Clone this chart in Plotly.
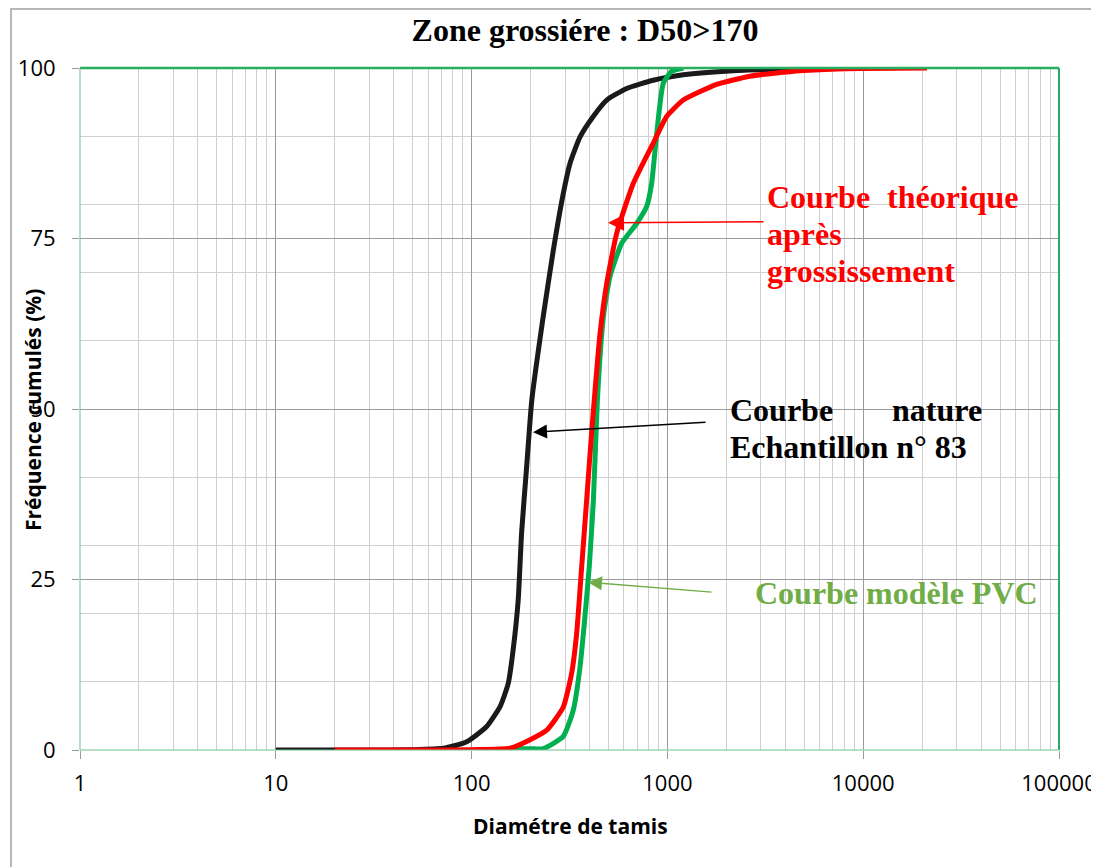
import math
import plotly.graph_objects as go

# Courbe nature Echantillon n° 83 (black)
nat_x = [10, 30, 50, 71.7, 94.4, 119, 140, 154, 163, 173, 180, 191, 203, 232, 261.5, 294, 318, 358, 418, 490, 620, 847, 1206, 2172, 5000]
nat_y = [0, 0, 0.05, 0.25, 1.2, 3.4, 6.4, 9.8, 14.7, 22, 31.8, 41.5, 51.3, 63.5, 73.3, 81.6, 86.0, 89.9, 92.9, 95.3, 97.0, 98.2, 99.0, 99.6, 99.95]

# Courbe théorique après grossissement (red)
theo_x = [20, 50, 100, 157, 199, 242, 294, 324, 344, 365, 387, 410, 453, 490, 551, 670, 847, 991, 1206, 1786, 2642, 4750, 8000, 21200]
theo_y = [0, 0, 0.05, 0.25, 1.5, 2.9, 6.3, 11.2, 17.1, 26.9, 36.7, 46.4, 61.1, 68.4, 75.8, 83.1, 89.0, 92.9, 95.3, 97.6, 98.8, 99.6, 99.9, 100]

# Courbe modèle PVC (green)
pvc_x = [157, 200, 232, 294, 331, 358, 379, 399, 419, 439, 471, 509, 584, 697, 784, 831, 882, 953, 1051, 1206]
pvc_y = [0.2, 0.2, 0.2, 2.0, 5.9, 12.2, 19.5, 26.9, 36.7, 51.3, 63.5, 69.4, 74.3, 77.2, 79.7, 83.1, 90.4, 97.8, 99.5, 100]

x_tickvals = [1, 10, 100, 1000, 10000, 100000]
x_ticktext = ["1", "10", "100", "1000", "10000", "100000"]
y_tickvals = [0, 25, 50, 75, 100]

fig = go.Figure()
fig.add_trace(go.Scatter(x=nat_x, y=nat_y, mode="lines", line=dict(color="#1a1a1a", width=5, shape="spline", smoothing=0.5), showlegend=False))
fig.add_trace(go.Scatter(x=pvc_x, y=pvc_y, mode="lines", line=dict(color="#00B050", width=5, shape="spline", smoothing=0.5), showlegend=False))
fig.add_trace(go.Scatter(x=theo_x, y=theo_y, mode="lines", line=dict(color="#FF0000", width=5, shape="spline", smoothing=0.5), showlegend=False))

serif = "Liberation Serif, Times New Roman, serif"
sans = "Open Sans, sans-serif"

OFF = 8  # page body margin
FW, FH = 1099 - OFF, 867 - OFF
L, R, T, B = 80, 1059, 68, 750  # plot area in page pixels
W, H = R - L, B - T

def px(xp):
    return (xp - L) / W

def py(yp):
    return (B - yp) / H

ann = []
def txt(x, y, s, color, anchor="left", size=32, family=serif, angle=0):
    ann.append(dict(x=x, y=y, xref="paper", yref="paper", text=s, showarrow=False,
                    xanchor=anchor, yanchor="middle", textangle=angle,
                    font=dict(family=family, size=size, color=color)))

txt(px(765), py(197), "<b>Courbe</b>", "#FF0000")
txt(px(1021), py(197), "<b>théorique</b>", "#FF0000", "right")
txt(px(765), py(234), "<b>après</b>", "#FF0000")
txt(px(765), py(271), "<b>grossissement</b>", "#FF0000")
txt(px(728), py(410), "<b>Courbe</b>", "#000000")
txt(px(984), py(410), "<b>nature</b>", "#000000", "right")
txt(px(728), py(447), "<b>Echantillon n° 83</b>", "#000000")
txt(px(753), py(593), "<b>Courbe modèle PVC</b>", "#70AD47")

# axis titles
txt(px(570), py(826), "<b>Diamétre de tamis</b>", "black", "center", 21, sans)
txt(px(33), py(410), "<b>Fréquence cumulés (%)</b>", "black", "center", 21, sans, -90)

# arrows (head in data coordinates, tail offset in pixels)
def arrow(xd, yd, ax, ay, color, w):
    ann.append(dict(x=math.log10(xd), y=yd, xref="x", yref="y", ax=ax, ay=ay,
                    axref="pixel", ayref="pixel", showarrow=True, arrowhead=2,
                    arrowsize=2.0, arrowwidth=w, arrowcolor=color, text=""))

arrow(497.5, 77.3, 157, -1, "#FF0000", 1.6)
arrow(205.9, 46.6, 174, -10, "#000000", 1.4)
arrow(393, 24.6, 125, 10, "#70AD47", 1.4)

shapes = [
    dict(type="rect", xref="paper", yref="paper", x0=px(11), y0=py(900), x1=px(1150), y1=py(9),
         line=dict(color="#a0a0a0", width=1.5)),
    dict(type="line", xref="paper", yref="paper", x0=0, y0=1, x1=1, y1=1, line=dict(color="#27ae60", width=2.5)),
    dict(type="line", xref="paper", yref="paper", x0=1, y0=0, x1=1, y1=1, line=dict(color="#27ae60", width=2)),
    dict(type="line", xref="paper", yref="paper", x0=0, y0=0, x1=0, y1=1, line=dict(color="#6fbf8f", width=1)),
    dict(type="line", xref="paper", yref="paper", x0=0, y0=0, x1=1, y1=0, line=dict(color="#6fbf8f", width=1)),
]

fig.update_layout(
    width=FW, height=FH,
    margin=dict(l=L - OFF, r=FW - (R - OFF), t=T - OFF, b=FH - (B - OFF), autoexpand=False),
    paper_bgcolor="white", plot_bgcolor="white",
    title=dict(text="<b>Zone grossiére : D50>170</b>", x=(585 - OFF) / FW, xanchor="center",
               y=1 - (30 - OFF) / FH, yanchor="middle",
               font=dict(family=serif, size=32, color="black"), automargin=False),
    annotations=ann, shapes=shapes,
    xaxis=dict(type="log", range=[0, 5], tickvals=x_tickvals, ticktext=x_ticktext,
               showgrid=True, gridcolor="#9a9a9a", gridwidth=1,
               ticks="outside", ticklen=8, tickcolor="#9a9a9a", ticklabelstandoff=6,
               minor=dict(showgrid=True, gridcolor="#d0d0d0", gridwidth=1, dtick="D1", ticks=""),
               tickfont=dict(family=sans, size=22, color="black"),
               zeroline=False, showline=False, automargin=False),
    yaxis=dict(range=[0, 100], tickvals=y_tickvals,
               showgrid=True, gridcolor="#9a9a9a", gridwidth=1,
               ticks="outside", ticklen=7, tickcolor="#9a9a9a", ticklabelstandoff=12,
               minor=dict(showgrid=True, gridcolor="#d0d0d0", gridwidth=1, dtick=10, ticks=""),
               tickfont=dict(family=sans, size=22, color="black"),
               zeroline=False, showline=False, automargin=False),
)

fig.write_html("out.html")
